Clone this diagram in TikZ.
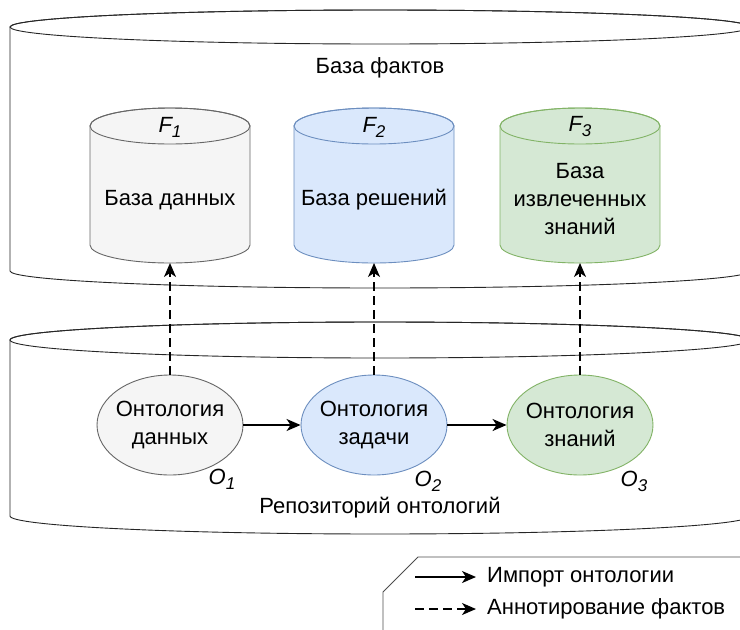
\documentclass[tikz,border=0pt]{standalone}
\usepackage{fontspec}
\setmainfont{Liberation Sans}
\usetikzlibrary{shapes.geometric,arrows.meta,positioning}

\definecolor{grayfill}{HTML}{F5F5F5}
\definecolor{graydraw}{HTML}{666666}
\definecolor{bluefill}{HTML}{DAE8FC}
\definecolor{bluedraw}{HTML}{6C8EBF}
\definecolor{greenfill}{HTML}{D5E8D4}
\definecolor{greendraw}{HTML}{82B366}

% cylinder: centre x, top y, side end y, x radius, y radius, style
\newcommand{\cylpath}[6]{%
  \path[#6] ({#1-#4},#2) -- ({#1-#4},#3)
    arc[start angle=180,end angle=0,x radius=#4,y radius=#5] -- ({#1+#4},#2)
    arc[start angle=0,end angle=-180,x radius=#4,y radius=#5] -- cycle;
  \path[#6,fill=none] (#1,#2) ellipse[x radius=#4,y radius=#5];}
% italic letter with index
\newcommand{\idx}[2]{\itshape #1\raisebox{-5pt}{\fontsize{17}{17}\selectfont #2}}

\begin{document}
\begin{tikzpicture}[x=1pt,y=-1pt,font=\fontsize{22}{28}\selectfont,
  bigcyl/.style={draw=black!85,line width=0.9pt,fill=white},
  onto/.style={ellipse,draw,line width=0.9pt,minimum width=146pt,minimum height=100pt},
  imp/.style={-{Stealth[length=14pt,width=12pt,inset=4pt]},line width=1.6pt},
  ann/.style={imp,dash pattern=on 9pt off 5pt}]
\clip (0,0) rectangle (740,630);

% Fact base and ontology repository
\cylpath{380}{27}{271}{370}{17}{bigcyl}
\node (factstxt) at (380,68) {База фактов};
\cylpath{380}{340}{516}{370}{18}{bigcyl}
\node (repotxt) at (380,508) {Репозиторий онтологий};

% Databases
\cylpath{170}{126}{245}{80}{18}{draw=graydraw,fill=grayfill,line width=0.9pt}
\cylpath{374}{126}{245}{80}{18}{draw=bluedraw,fill=bluefill,line width=0.9pt}
\cylpath{580}{126}{245}{80}{18}{draw=greendraw,fill=greenfill,line width=0.9pt}
\coordinate (f1) at (170,263);
\coordinate (f2) at (374,263);
\coordinate (f3) at (580,263);
\node (f1lbl) at (170,127) {\idx{F}{1}};
\node (f2lbl) at (374,127) {\idx{F}{2}};
\node (f3lbl) at (580,127) {\idx{F}{3}};
\node (f1txt) at (170,200) {База данных};
\node (f2txt) at (374,200) {База решений};
\node[align=center] (f3txt) at (580,199) {База\\извлеченных\\знаний};

% Ontologies
\node[onto,draw=graydraw,fill=grayfill] (o1) at (170,425) {};
\node[onto,draw=bluedraw,fill=bluefill] (o2) at (374,425) {};
\node[onto,draw=greendraw,fill=greenfill] (o3) at (580,425) {};
\node[align=center] (o1txt) at (o1) {Онтология\\данных};
\node[align=center] (o2txt) at (o2) {Онтология\\задачи};
\node[align=center] (o3txt) at (o3) {Онтология\\знаний};
\node (o1lbl) at (222,479) {\idx{O}{1}};
\node (o2lbl) at (428,481) {\idx{O}{2}};
\node (o3lbl) at (634,481) {\idx{O}{3}};

% Import and annotation
\draw[imp] (o1) -- (o2);
\draw[imp] (o2) -- (o3);
\draw[ann] (o1.north) -- (f1);
\draw[ann] (o2.north) -- (f2);
\draw[ann] (o3.north) -- (f3);

% Legend
\draw[draw=black!70,line width=0.9pt] (383,640) -- (383,592) -- (418,557) -- (750,557);
\coordinate (leg1) at (415,577);
\coordinate (leg2) at (415,609);
\node[anchor=west,inner xsep=11pt] (legimp) at (476,577) {Импорт онтологии};
\node[anchor=west,inner xsep=11pt] (legann) at (476,609) {Аннотирование фактов};
\draw[imp] (leg1) -- (legimp.west);
\draw[ann] (leg2) -- (legann.west);
\end{tikzpicture}
\end{document}
